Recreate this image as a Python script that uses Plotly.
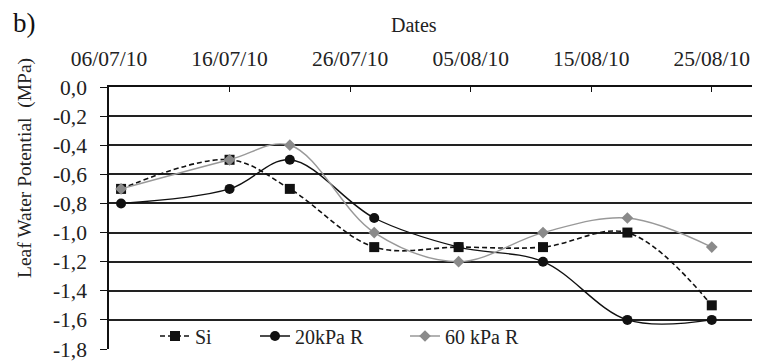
import plotly.graph_objects as go

dates = ['2010-07-07', '2010-07-16', '2010-07-21', '2010-07-28',
         '2010-08-04', '2010-08-11', '2010-08-18', '2010-08-25']
si = [-0.7, -0.5, -0.7, -1.1, -1.1, -1.1, -1.0, -1.5]
kpa20 = [-0.8, -0.7, -0.5, -0.9, -1.1, -1.2, -1.6, -1.6]
kpa60 = [-0.7, -0.5, -0.4, -1.0, -1.2, -1.0, -0.9, -1.1]

x_tick_vals = ['2010-07-06', '2010-07-16', '2010-07-26', '2010-08-05',
               '2010-08-15', '2010-08-25']
x_tick_text = ['06/07/10', '16/07/10', '26/07/10', '05/08/10', '15/08/10', '25/08/10']
y_tick_vals = [0.0, -0.2, -0.4, -0.6, -0.8, -1.0, -1.2, -1.4, -1.6, -1.8]
y_tick_text = ['0,0', '-0,2', '-0,4', '-0,6', '-0,8', '-1,0', '-1,2', '-1,4', '-1,6', '-1,8']

FONT = "'Liberation Serif', 'Times New Roman', 'DejaVu Serif', serif"

# the page body has an 8px default margin; figure is laid out so the
# visible window matches the 760x363 reference
OFF = 8
W, H = 760 - OFF, 363 - OFF
L, T, B = 109 - OFF, 87 - OFF, 14
plot_w = W - L
plot_h = H - T - B

def px_x(sx):  # screen px -> paper
    return (sx - OFF - L) / plot_w
def px_y(sy):
    return (H - B - (sy - OFF)) / plot_h

fig = go.Figure()
fig.add_trace(go.Scatter(
    x=dates, y=si, name='Si', mode='lines+markers', line_shape='spline',
    line=dict(color='#111111', width=1.6, dash='5px,3px'),
    marker=dict(symbol='square', size=10, color='#111111'), legend='legend'))
fig.add_trace(go.Scatter(
    x=dates, y=kpa20, name='20kPa R', mode='lines+markers', line_shape='spline',
    line=dict(color='#111111', width=1.4),
    marker=dict(symbol='circle', size=10, color='#111111'), legend='legend2'))
fig.add_trace(go.Scatter(
    x=dates, y=kpa60, name='60 kPa R', mode='lines+markers', line_shape='spline',
    line=dict(color='#999999', width=1.4),
    marker=dict(symbol='diamond', size=9, color='#8a8a8a'), legend='legend3'))

leg = dict(bgcolor='rgba(0,0,0,0)', font=dict(family=FONT, size=20, color='#222'),
           yanchor='middle', xanchor='left', y=px_y(336), orientation='h')

TICKFONT = dict(family=FONT, size=21.5, color='#222')

fig.update_layout(
    width=W, height=H,
    margin=dict(l=L, r=0, t=T, b=B, autoexpand=False),
    paper_bgcolor='white', plot_bgcolor='white',
    font=dict(family=FONT, size=20, color='#222'),
    showlegend=True,
    legend=dict(leg, x=px_x(155)),
    legend2=dict(leg, x=px_x(255)),
    legend3=dict(leg, x=px_x(405)),
    xaxis=dict(
        type='date', side='top', range=['2010-07-06', '2010-08-29'],
        tickvals=x_tick_vals, ticktext=x_tick_text, automargin=False,
        ticks='inside', ticklen=5, tickcolor='#111', tickwidth=1.3,
        showline=True, linecolor='#111', linewidth=1.5,
        showgrid=False, ticklabelstandoff=11, tickfont=TICKFONT),
    xaxis2=dict(
        type='date', overlaying='x', matches='x', anchor='y', side='bottom',
        showline=True, linecolor='#9a9a9a', linewidth=1.5, showgrid=False,
        showticklabels=False, ticks='', automargin=False),
    yaxis=dict(
        range=[-1.8, 0], tickvals=y_tick_vals, ticktext=y_tick_text, automargin=False,
        ticks='outside', ticklen=7, tickcolor='#111', tickwidth=1.3,
        showline=True, linecolor='#111', linewidth=1.5,
        showgrid=True, gridcolor='#222222', gridwidth=1.5, zeroline=False,
        ticklabelstandoff=9, tickfont=TICKFONT),
)

fig.update_layout(annotations=[
    dict(text='b)', x=px_x(11), y=px_y(6), xref='paper', yref='paper', showarrow=False,
         xanchor='left', yanchor='top', font=dict(family=FONT, size=27, color='#111')),
    dict(text='Dates', x=px_x(414), y=px_y(25), xref='paper', yref='paper', showarrow=False,
         xanchor='center', yanchor='middle', font=dict(family=FONT, size=20, color='#222')),
    dict(text='Leaf Water Potential  (MPa)', textangle=-90, x=px_x(25), y=px_y(168),
         xref='paper', yref='paper', showarrow=False, xanchor='center', yanchor='middle',
         font=dict(family=FONT, size=19.5, color='#222')),
])

fig.write_html('out.html')
